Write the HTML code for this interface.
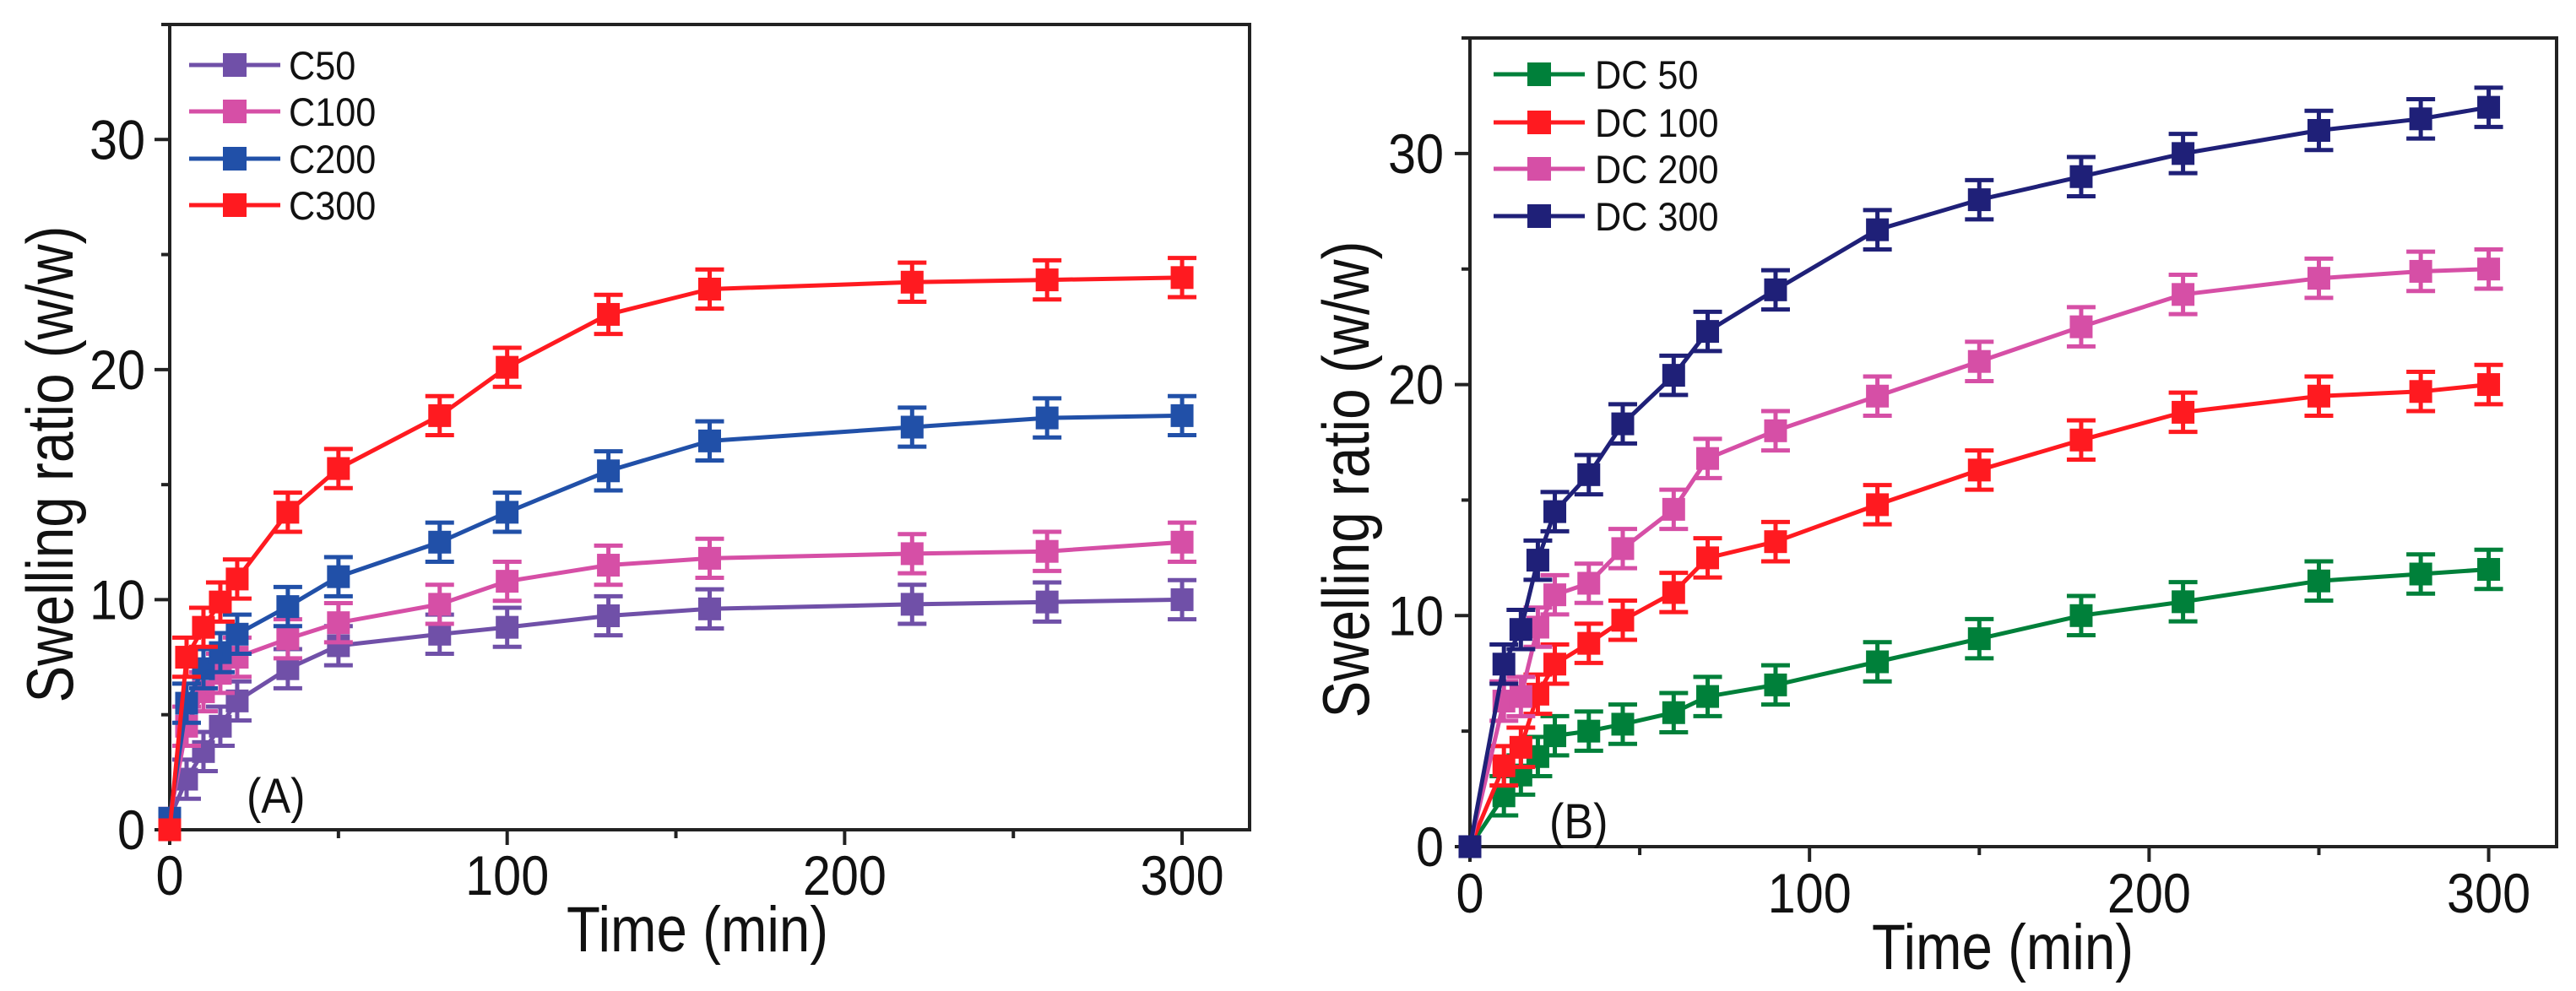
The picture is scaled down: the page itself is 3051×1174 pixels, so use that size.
<!DOCTYPE html>
<html><head><meta charset="utf-8"><style>
html,body{margin:0;padding:0;background:#fff;}
svg{display:block;font-family:"Liberation Sans",Arial,sans-serif;}
</style></head><body>
<svg id="fig" width="3051" height="1174" viewBox="0 0 3051 1174" xmlns="http://www.w3.org/2000/svg"></svg>
<script>
// ---- Panel A data ----
const timesA = [0,5,10,15,20,35,50,80,100,130,160,220,260,300];
const c50  = [0.5,2.2,3.4,4.5,5.6,7.0,8.0,8.5,8.8,9.3,9.6,9.8,9.9,10.0];
const c100 = [0.5,4.5,6.0,6.8,7.5,8.3,9.0,9.8,10.8,11.5,11.8,12.0,12.1,12.5];
const c200 = [0.5,5.5,7.0,7.7,8.5,9.7,11.0,12.5,13.8,15.6,16.9,17.5,17.9,18.0];
const c300 = [0.0,7.5,8.8,9.9,10.9,13.8,15.7,18.0,20.1,22.4,23.5,23.8,23.9,24.0];
const namesA = ["C50","C100","C200","C300"];
// ---- Panel B data ----
const timesB = [0,10,15,20,25,35,45,60,70,90,120,150,180,210,250,280,300];
const dc50  = [0,2.2,3.1,3.9,4.8,5.0,5.3,5.8,6.5,7.0,8.0,9.0,10.0,10.6,11.5,11.8,12.0];
const dc100 = [0,3.5,4.3,6.6,7.9,8.8,9.8,11.0,12.5,13.2,14.8,16.3,17.6,18.8,19.5,19.7,20.0];
const dc200 = [0,6.3,6.5,9.5,10.9,11.4,12.9,14.6,16.8,18.0,19.5,21.0,22.5,23.9,24.6,24.9,25.0];
const dc300 = [0,7.9,9.4,12.4,14.5,16.1,18.3,20.4,22.3,24.1,26.7,28.0,29.0,30.0,31.0,31.5,32.0];
const namesB = ["DC 50","DC 100","DC 200","DC 300"];
const errBar = 0.85;
const xTicks = [0,100,200,300];
const xMinor = [50,150,250];
const yTicks = [0,10,20,30];
const yMinor = [5,15,25,35];

const NS="http://www.w3.org/2000/svg";
const svg=document.getElementById('fig');
function mk(tag,attrs,parent){const e=document.createElementNS(NS,tag);for(const k in attrs)e.setAttribute(k,attrs[k]);(parent||svg).appendChild(e);return e;}
function txt(parent,x,y,s,size,anchor,sx,rot,len){
  const a={transform:`translate(${x},${y})`+(rot?` rotate(${rot})`:'')+` scale(${sx},1)`,'font-size':size,'text-anchor':anchor,fill:'#111'};
  if(len){a.textLength=len;a.lengthAdjust='spacingAndGlyphs';}
  const t=mk('text',a,parent);
  t.textContent=s;return t;}

function panel(cfg){
  const g=mk('g',{});
  
  
  const L=cfg.L,R=cfg.R,T=cfg.T,B=cfg.B;
  const xs=v=>L+(v-0)/(320)*(R-L);
  const ys=v=>B-(v/35)*(B-T);
  const fr=mk('rect',{x:L,y:T,width:R-L,height:B-T,fill:'none',stroke:'#222','stroke-width':4},g);
  
  
  xTicks.forEach(v=>{
    const l=mk('line',{x1:xs(v),x2:xs(v),y1:B,y2:B+18,stroke:'#222','stroke-width':4},g);
    
    
    const t=txt(g,xs(v),cfg.xlabY,String(v),66,'middle',0.9);
    
    
  });
  xMinor.forEach(v=>{const l=mk('line',{x1:xs(v),x2:xs(v),y1:B,y2:B+10,stroke:'#222','stroke-width':4},g);
    
    });
  yTicks.forEach(v=>{
    const l=mk('line',{x1:L-18,x2:L,y1:ys(v),y2:ys(v),stroke:'#222','stroke-width':4},g);
    
    
    const t=txt(g,cfg.ylabR,ys(v)+23,String(v),66,'end',0.9);
    
    
  });
  yMinor.forEach(v=>{const l=mk('line',{x1:L-10,x2:L,y1:ys(v),y2:ys(v),stroke:'#222','stroke-width':4},g);
    
    });
  const xt=txt(g,cfg.xtX,cfg.xtY,'Time (min)',76,'middle',1,0,310);
  
  
  const yt=txt(g,cfg.ytX,cfg.ytY,'Swelling ratio (w/w)',78,'middle',1,-90,565);
  
  
  const pl=txt(g,cfg.plX,cfg.plY,cfg.label,58,'start',0.9);
  
  
  cfg.series.forEach((s,si)=>{
    const sg=mk('g',{},g);
    
    
    const pts=cfg.times.map((t,i)=>xs(t).toFixed(1)+','+ys(s.vals[i]).toFixed(1)).join(' ');
    const pline=mk('polyline',{points:pts,fill:'none',stroke:s.color,'stroke-width':5,'stroke-linejoin':'round'},sg);
    
    
    cfg.times.forEach((t,i)=>{
      const x=xs(t),y=ys(s.vals[i]);
      if(i>0){
        const yt1=ys(s.vals[i]+errBar),yb=ys(s.vals[i]-errBar);
        const eb=mk('path',{d:`M${x},${yt1}V${yb}M${x-17},${yt1}H${x+17}M${x-17},${yb}H${x+17}`,stroke:s.color,'stroke-width':5,fill:'none'},sg);
        
        
      }
      const m=mk('rect',{x:x-13.5,y:y-13.5,width:27,height:27,fill:s.color},sg);
      
      
    });
    const ly=cfg.legY[si];
    const lg=mk('g',{},g);
    
    
    mk('line',{x1:cfg.legX1,x2:cfg.legX2,y1:ly,y2:ly,stroke:s.color,'stroke-width':5},lg);
    const cx=(cfg.legX1+cfg.legX2)/2;
    mk('rect',{x:cx-14,y:ly-14,width:28,height:28,fill:s.color},lg);
    txt(lg,cfg.legTX,ly+17,s.name,47,'start',0.92);
  });
}

panel({name:'panel-a',L:201,R:1480,T:29,B:983,xlabY:1060,ylabR:172,xtX:826,xtY:1127,ytX:86,ytY:550,
  label:'(A)',plX:292,plY:963,times:timesA,
  legY:[77,132,188,243],legX1:224,legX2:332,legTX:342,
  series:[{name:namesA[0],vals:c50,color:'#7050a8'},{name:namesA[1],vals:c100,color:'#d64fa6'},
          {name:namesA[2],vals:c200,color:'#2150a8'},{name:namesA[3],vals:c300,color:'#ff1a20'}]});
panel({name:'panel-b',L:1741,R:3028,T:45,B:1003,xlabY:1081,ylabR:1710,xtX:2372,xtY:1148,ytX:1621,ytY:568,
  label:'(B)',plX:1835,plY:993,times:timesB,
  legY:[88,145,200,256],legX1:1769,legX2:1877,legTX:1889,
  series:[{name:namesB[0],vals:dc50,color:'#00803a'},{name:namesB[1],vals:dc100,color:'#ff1a20'},
          {name:namesB[2],vals:dc200,color:'#d64fa6'},{name:namesB[3],vals:dc300,color:'#1f2078'}]});
</script>
</body></html>
